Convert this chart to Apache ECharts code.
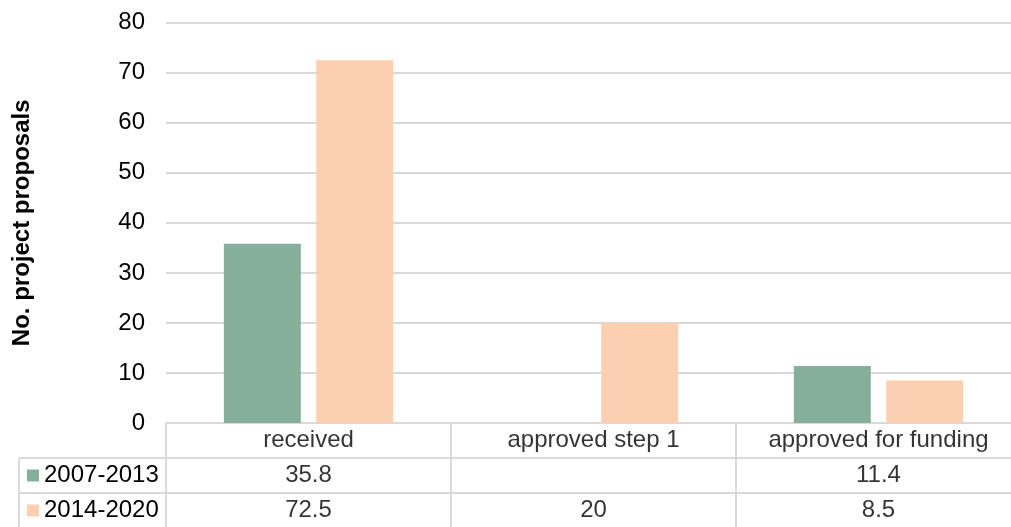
<!DOCTYPE html>
<html>
<head>
<meta charset="utf-8">
<script src="https://cdn.jsdelivr.net/npm/echarts@6/dist/echarts.min.js"></script>
<style>
  html, body { margin: 0; padding: 0; background: #fff; }
  #chart { width: 1011px; height: 527px; }
</style>
</head>
<body>
<div id="chart"></div>
<script>
// data
var categories = ["received", "approved step 1", "approved for funding"];
var seriesNames = ["2007-2013", "2014-2020"];
var values2007 = [35.8, null, 11.4];
var values2014 = [72.5, 20, 8.5];
var yTicks = [0, 10, 20, 30, 40, 50, 60, 70, 80];

var colors = ["#85AF9B", "#FBCFB0"];
var gridColor = "#D9D9D9";
var font = "Liberation Sans, Arial, sans-serif";
var fs = 24;

// texts of the data table: [column, row, text]
var tableCells = [];
categories.forEach(function (c, i) {
  tableCells.push([i, 0, c]);
  if (values2007[i] != null) tableCells.push([i, 1, String(values2007[i])]);
  if (values2014[i] != null) tableCells.push([i, 2, String(values2014[i])]);
});

var chart = echarts.init(document.getElementById("chart"));

var option = {
  animation: false,
  textStyle: { fontFamily: font },
  grid: [
    // bars (plot runs a bit past the right edge of the picture)
    { left: 166, width: 855, top: 22.7, height: 400.3, outerBoundsMode: "none" },
    // data table
    { left: 166, width: 855, top: 423, height: 105, outerBoundsMode: "none" },
    // legend column of the table
    { left: 19, width: 147, top: 458, height: 70, outerBoundsMode: "none" }
  ],
  xAxis: [
    {
      type: "category",
      gridIndex: 0,
      data: categories,
      axisLine: { show: true, lineStyle: { color: gridColor, width: 2 } },
      axisTick: { show: false },
      axisLabel: { show: false }
    },
    {
      type: "category",
      gridIndex: 1,
      data: categories,
      axisLine: { show: false },
      axisTick: { show: false },
      axisLabel: { show: false },
      splitLine: { show: true, lineStyle: { color: gridColor, width: 2 } }
    },
    {
      type: "category",
      gridIndex: 2,
      data: [""],
      axisLine: { show: false },
      axisTick: { show: false },
      axisLabel: { show: false },
      splitLine: { show: true, lineStyle: { color: gridColor, width: 2 } }
    }
  ],
  yAxis: [
    {
      type: "value",
      gridIndex: 0,
      min: yTicks[0],
      max: yTicks[yTicks.length - 1],
      interval: 10,
      name: "No. project proposals",
      nameLocation: "middle",
      nameGap: 132,
      nameTextStyle: { fontSize: fs, fontWeight: "bold", color: "#000", fontFamily: font },
      axisLine: { show: false },
      axisTick: { show: false },
      axisLabel: { fontSize: fs, color: "#000", margin: 21, fontFamily: font },
      splitLine: { lineStyle: { color: gridColor, width: 2 } }
    },
    {
      type: "category",
      gridIndex: 1,
      inverse: true,
      data: ["", seriesNames[0], seriesNames[1]],
      axisLine: { show: false },
      axisTick: { show: false },
      axisLabel: { show: false },
      splitLine: { show: true, lineStyle: { color: gridColor, width: 2 } }
    },
    {
      type: "category",
      gridIndex: 2,
      inverse: true,
      data: seriesNames,
      axisLine: { show: false },
      axisTick: { show: false },
      axisLabel: {
        inside: true,
        margin: 8,
        align: "left",
        formatter: function (v, i) {
          return "{s" + i + "|}{t|" + v + "}";
        },
        rich: {
          s0: { width: 12, height: 12, backgroundColor: colors[0] },
          s1: { width: 12, height: 12, backgroundColor: colors[1] },
          t: { fontSize: fs, color: "#000", padding: [0, 0, 0, 5], fontFamily: font }
        }
      },
      splitLine: { show: true, lineStyle: { color: gridColor, width: 2 } }
    }
  ],
  series: [
    {
      name: seriesNames[0],
      type: "bar",
      xAxisIndex: 0,
      yAxisIndex: 0,
      data: values2007,
      barWidth: "27%",
      barGap: "20%",
      itemStyle: { color: colors[0] }
    },
    {
      name: seriesNames[1],
      type: "bar",
      xAxisIndex: 0,
      yAxisIndex: 0,
      data: values2014,
      barWidth: "27%",
      barGap: "20%",
      itemStyle: { color: colors[1] }
    },
    {
      // table texts
      type: "scatter",
      xAxisIndex: 1,
      yAxisIndex: 1,
      symbolSize: 0,
      silent: true,
      data: tableCells,
      label: {
        show: true,
        position: "inside",
        fontSize: fs,
        color: "#000",
        fontFamily: font,
        formatter: function (p) { return p.data[2]; }
      }
    }
  ]
};

chart.setOption(option);
</script>
</body>
</html>
